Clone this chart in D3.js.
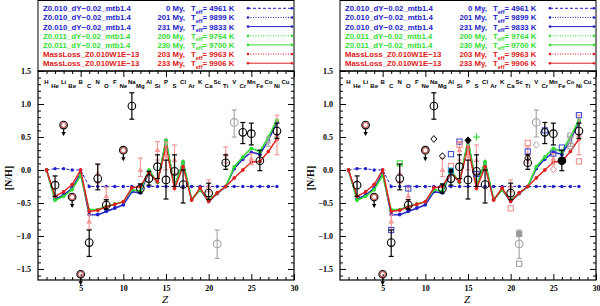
<!DOCTYPE html>
<html>
<head>
<meta charset="utf-8">
<title>[N/H] abundances</title>
<script src="https://cdn.jsdelivr.net/npm/d3@7"></script>
<style>
body{margin:0;background:#fff;}
svg{display:block;background:#fff;}
.tick text{font-family:"Liberation Serif",serif;font-weight:bold;font-size:8px;fill:#000;}
.leg{font-family:"Liberation Sans",Arial,sans-serif;font-weight:bold;font-size:7.8px;}
.el{font-family:"Liberation Sans",Arial,sans-serif;font-weight:bold;font-size:6px;}
</style>
</head>
<body>
<svg width="600" height="306"></svg>
<script>
// elements Z = 1..29
var elements = ["H","He","Li","Be","B","C","N","O","F","Ne","Na","Mg","Al","Si","P","S","Cl","Ar","K","Ca","Sc","Ti","V","Cr","Mn","Fe","Co","Ni","Cu"];
var modelZ = [1,2,3,4,5,6,7,8,9,10,11,12,13,14,15,16,17,18,19,20,21,22,23,24,25,26,27,28];

// model curves (Z = 1..28)
var blue0   = [0.00,0.02,0.02,0.00,0.00,-0.25,-0.25,-0.25,-0.25,-0.25,-0.25,-0.25,-0.25,-0.25,-0.25,-0.25,-0.25,-0.25,-0.25,-0.25,-0.25,-0.25,-0.25,-0.25,-0.25,-0.25,-0.25,-0.25];
var blue201 = [0.00,-0.44,-0.37,-0.27,-0.05,-0.67,-0.67,-0.62,-0.57,-0.52,-0.32,-0.34,-0.03,-0.19,0.44,-0.25,0.11,-0.44,-0.30,-0.46,-0.35,-0.25,0.02,0.16,0.26,0.23,0.44,0.72];
var blue231 = [0.00,-0.44,-0.38,-0.28,-0.05,-0.68,-0.68,-0.63,-0.58,-0.53,-0.33,-0.35,-0.03,-0.19,0.45,-0.25,0.12,-0.45,-0.30,-0.48,-0.36,-0.25,0.02,0.17,0.27,0.24,0.45,0.73];
var green200 = [0.00,-0.46,-0.40,-0.30,-0.08,-0.60,-0.60,-0.55,-0.51,-0.48,-0.30,-0.32,0.00,-0.19,0.44,-0.25,0.12,-0.44,-0.30,-0.45,-0.35,-0.25,0.05,0.19,0.32,0.27,0.49,0.75];
var green230 = [0.00,-0.46,-0.40,-0.30,-0.08,-0.60,-0.60,-0.55,-0.52,-0.48,-0.30,-0.32,0.00,-0.19,0.45,-0.25,0.13,-0.45,-0.30,-0.46,-0.35,-0.25,0.05,0.20,0.33,0.28,0.50,0.76];
var red203 = [0.00,-0.40,-0.33,-0.22,0.00,-0.63,-0.61,-0.56,-0.52,-0.48,-0.27,-0.25,-0.04,-0.18,0.34,-0.28,0.05,-0.45,-0.27,-0.47,-0.34,-0.25,-0.12,0.00,0.12,0.13,0.28,0.46];
var red233 = [0.00,-0.40,-0.33,-0.22,0.00,-0.63,-0.61,-0.56,-0.52,-0.48,-0.27,-0.25,-0.04,-0.18,0.35,-0.28,0.05,-0.46,-0.27,-0.48,-0.35,-0.25,-0.12,0.00,0.12,0.13,0.28,0.47];

// legend
var legName = ["Z0.010_dY\u22120.02_mtb1.4","Z0.010_dY\u22120.02_mtb1.4","Z0.010_dY\u22120.02_mtb1.4","Z0.011_dY\u22120.02_mtb1.4","Z0.011_dY\u22120.02_mtb1.4","MassLoss_Z0.010W1E\u221213","MassLoss_Z0.010W1E\u221213"];
var legAge = ["0 My,","201 My,","231 My,","200 My,","230 My,","203 My,","233 My,"];
var legTeff = [4961,9899,9833,9764,9700,9963,9906];

// observations, black circles with error bars
var obsZ   = [2,6,7,8,11,12,13,14,15,16,17,20,22,24,25,26,28];
var obsVal = [-0.23,-1.10,-0.13,-0.53,0.97,-0.28,-0.13,0.05,-0.15,-0.02,-0.22,-0.35,0.11,0.57,0.55,0.14,0.59];
var obsLo  = [-0.40,-1.31,-0.30,-0.60,0.77,-0.35,-0.23,-0.13,-0.44,-0.25,-0.50,-0.45,0.01,0.40,0.38,-0.01,0.48];
var obsHi  = [-0.09,-0.91,0.09,-0.45,1.17,-0.21,-0.02,0.23,0.15,0.23,0.00,-0.20,0.23,0.72,0.71,0.30,0.71];
// upper limits
var limZ   = [3,4,5,10];
var limVal = [0.68,-0.41,-1.58,0.30];
// second study (pink triangles)
var pinkZ   = [6,7,8,12,14,15,16,20,22,25,28];
var pinkVal = [-0.78,-0.05,-0.40,0.00,0.30,0.22,0.15,-0.25,0.23,0.17,0.53];
var pinkLo  = [-0.90,-0.20,-0.45,-0.10,0.15,0.00,-0.05,-0.33,0.11,0.08,0.23];
var pinkHi  = [-0.68,0.08,-0.26,0.18,0.43,0.42,0.38,-0.15,0.35,0.25,0.83];
// gray points
var grayZ   = [21,23,27];
var grayVal = [-1.12,0.72,0.43];
var grayLo  = [-1.34,0.50,0.36];
var grayHi  = [-0.91,0.91,0.50];

// extra points, right panel only
var bSqZ = [6,8,13,14,16,22,24,25,26,28];
var bSqV = [-0.91,-0.28,0.24,0.43,-0.06,0.28,0.60,0.25,0.34,0.83];
var pSqZ = [13,14,20,22,28];
var pSqV = [0.06,0.38,-0.58,0.41,0.13];
var cSqZ = [13];
var cSqV = [-0.01];
var gSqZ = [7];
var gSqV = [0.10];
var diaZ = [11,12,15,22,23,25];
var diaV = [0.47,0.21,0.45,0.18,0.38,0.01];
var diaC = ["#000","#000","#000","#000","#aaa","#e08080"];
var plusZ = [16];
var plusV = [0.50];
var grSqZ = [21,21,27,27];
var grSqV = [-0.97,-1.42,0.52,0.36];
var grSqFill = ["#999","none","none","none"];

var blue = "#2222c8", green = "#33dd33", red = "#e02020", pink = "#f49a9a", gray = "#aaaaaa";

var series = [
  {v: blue0, c: blue, dash: "3,2", w: 1},
  {v: blue201, c: blue, dash: "1,1.5", w: 1},
  {v: blue231, c: blue, dash: null, w: 1.4},
  {v: green200, c: green, dash: "1,1.5", w: 1},
  {v: green230, c: green, dash: null, w: 1.6},
  {v: red203, c: red, dash: "1,1.5", w: 1},
  {v: red233, c: red, dash: null, w: 1.4}
];

var svg = d3.select("svg");
var W = 256, top0 = 71, bot = 280;

function drawPanel(x0, right) {
  var g = svg.append("g");
  var x = d3.scaleLinear().domain([0,30]).range([x0, x0+W]);
  var y = d3.scaleLinear().domain([-1.667,1.5]).range([bot, top0]);

  // legend box
  g.append("rect").attr("x",x0).attr("y",0.5).attr("width",W).attr("height",top0-0.5)
    .attr("fill","none").attr("stroke","#000").attr("stroke-width",1);
  legName.forEach(function(n,i){
    var s = series[i], ly = 11.3 + i*9.15;
    g.append("text").attr("class","leg").attr("fill",s.c).attr("x",x0+5).attr("y",ly).text(n);
    g.append("text").attr("class","leg").attr("fill",s.c).attr("x",x0+147).attr("y",ly)
      .attr("text-anchor","end").text(legAge[i]);
    var tt = g.append("text").attr("class","leg").attr("fill",s.c).attr("x",x0+153).attr("y",ly);
    tt.append("tspan").text("T");
    tt.append("tspan").attr("font-size","5.5px").attr("dy",2.5).text("eff");
    tt.append("tspan").attr("dy",-2.5).text("= " + legTeff[i] + " K");
    g.append("line").attr("x1",x0+210).attr("x2",x0+254).attr("y1",ly-3).attr("y2",ly-3)
      .attr("stroke",s.c).attr("stroke-width",1).attr("stroke-dasharray",s.dash);
    [x0+210,x0+254].forEach(function(px){
      g.append("circle").attr("cx",px).attr("cy",ly-3).attr("r",1.3).attr("fill",s.c);
    });
  });

  // frame
  g.append("rect").attr("x",x0).attr("y",top0).attr("width",W).attr("height",bot-top0)
    .attr("fill","none").attr("stroke","#000").attr("stroke-width",1.2);

  var xMajor = [5,10,15,20,25,30];
  var xMinor = modelZ.concat([29]).filter(function(d){return d%5;});
  var yMajor = [-1.5,-1,-0.5,0,0.5,1,1.5];
  var yMinor = d3.range(-16,15).map(function(d){return d/10;}).filter(function(d){return Math.abs(d*2-Math.round(d*2))>0.01;});

  function ax(a, tr){ var s = g.append("g").attr("transform",tr).call(a); s.select(".domain").remove(); s.selectAll("line").attr("stroke","#000"); return s; }
  ax(d3.axisBottom(x).tickValues(xMajor).tickSize(-6).tickPadding(5).tickFormat(d3.format("d")), "translate(0,"+bot+")");
  ax(d3.axisBottom(x).tickValues(xMinor).tickSize(-3).tickFormat(""), "translate(0,"+bot+")");
  ax(d3.axisTop(x).tickValues(xMajor).tickSize(-6).tickFormat(""), "translate(0,"+top0+")");
  ax(d3.axisTop(x).tickValues(xMinor).tickSize(-3).tickFormat(""), "translate(0,"+top0+")");
  ax(d3.axisLeft(y).tickValues(yMajor).tickSize(-6).tickPadding(7).tickFormat(d3.format(".1f")), "translate("+x0+",0)");
  ax(d3.axisLeft(y).tickValues(yMinor).tickSize(-3).tickFormat(""), "translate("+x0+",0)");
  ax(d3.axisRight(y).tickValues(yMajor).tickSize(-6).tickFormat(""), "translate("+(x0+W)+",0)");
  ax(d3.axisRight(y).tickValues(yMinor).tickSize(-3).tickFormat(""), "translate("+(x0+W)+",0)");

  // axis titles
  g.append("text").attr("x",x0+127).attr("y",303).attr("text-anchor","middle")
    .attr("font-family","Liberation Serif,serif").attr("font-style","italic").attr("font-size","11px").text("Z");
  g.append("text").attr("transform","translate("+(x0-26)+",178) rotate(-90)").attr("text-anchor","middle")
    .attr("font-family","Liberation Serif,serif").attr("font-weight","bold").attr("font-size","10px").text("[N/H]");

  // element labels
  g.selectAll(".el").data(elements).enter().append("text").attr("class","el")
    .attr("x",function(d,i){return x(i+1);})
    .attr("y",function(d,i){return i%2 ? 87.5 : 83.5;})
    .attr("text-anchor","middle").text(function(d){return d;});

  // models
  var line = d3.line().x(function(d,i){return x(modelZ[i]);}).y(function(d){return y(d);});
  series.forEach(function(s){
    g.append("path").datum(s.v).attr("d",line).attr("fill","none").attr("stroke",s.c)
      .attr("stroke-width",s.w).attr("stroke-dasharray",s.dash);
    g.selectAll(null).data(s.v).enter().append("circle")
      .attr("cx",function(d,i){return x(modelZ[i]);}).attr("cy",function(d){return y(d);})
      .attr("r",1.7).attr("fill",s.c);
  });

  function errbars(zs, lo, hi, col, w) {
    zs.forEach(function(z,i){
      var px = x(z);
      g.append("line").attr("x1",px).attr("x2",px).attr("y1",y(lo[i])).attr("y2",y(hi[i])).attr("stroke",col).attr("stroke-width",w);
      [lo[i],hi[i]].forEach(function(v){
        g.append("line").attr("x1",px-2.5).attr("x2",px+2.5).attr("y1",y(v)).attr("y2",y(v)).attr("stroke",col).attr("stroke-width",w);
      });
    });
  }
  function tri(px, py, r) { return "M"+px+","+(py-r)+"L"+(px+r*0.9)+","+(py+r*0.6)+"L"+(px-r*0.9)+","+(py+r*0.6)+"Z"; }

  // pink study
  errbars(pinkZ, pinkLo, pinkHi, pink, 1.2);
  pinkZ.forEach(function(z,i){
    g.append("path").attr("d",tri(x(z),y(pinkVal[i]),3.2)).attr("fill",pink);
  });
  // gray
  errbars(grayZ, grayLo, grayHi, gray, 1.2);
  grayZ.forEach(function(z,i){
    if (z === 27) g.append("path").attr("d",tri(x(z),y(grayVal[i]),3.2)).attr("fill",gray);
    else g.append("circle").attr("cx",x(z)).attr("cy",y(grayVal[i])).attr("r",3.8)
      .attr("fill","none").attr("stroke",gray).attr("stroke-width",1.2);
  });

  if (right) {
    function sq(zs, vs, col, fill) {
      zs.forEach(function(z,i){
        g.append("rect").attr("x",x(z)-2.6).attr("y",y(vs[i])-2.6).attr("width",5.2).attr("height",5.2)
          .attr("fill",fill ? fill[i] || fill : "none").attr("stroke",col).attr("stroke-width",1);
      });
    }
    sq(bSqZ, bSqV, "#3344cc");
    sq(pSqZ, pSqV, "#ee8888");
    sq(cSqZ, cSqV, "#22aadd", "#55ccee");
    sq(gSqZ, gSqV, green);
    sq(grSqZ, grSqV, "#999", grSqFill);
    diaZ.forEach(function(z,i){
      var px = x(z), py = y(diaV[i]);
      g.append("path").attr("d","M"+px+","+(py-3.4)+"L"+(px+3)+","+py+"L"+px+","+(py+3.4)+"L"+(px-3)+","+py+"Z")
        .attr("fill", z === 15 ? "#000" : "none").attr("stroke",diaC[i]).attr("stroke-width",1);
    });
    plusZ.forEach(function(z,i){
      var px = x(z), py = y(plusV[i]);
      g.append("path").attr("d","M"+(px-3.5)+","+py+"H"+(px+3.5)+"M"+px+","+(py-3.5)+"V"+(py+3.5))
        .attr("stroke",green).attr("stroke-width",1.2);
    });
  }

  // black circles
  errbars(obsZ, obsLo, obsHi, "#000", 1.2);
  obsZ.forEach(function(z,i){
    g.append("circle").attr("cx",x(z)).attr("cy",y(obsVal[i])).attr("r",3.8)
      .attr("fill", right && z === 26 ? "#000" : "none").attr("stroke","#000").attr("stroke-width",1.1);
  });
  // upper limits
  limZ.forEach(function(z,i){
    var px = x(z), py = y(limVal[i]);
    g.append("circle").attr("cx",px).attr("cy",py).attr("r",2.6).attr("fill","none").attr("stroke","#d06060").attr("stroke-width",1.2);
    g.append("circle").attr("cx",px).attr("cy",py).attr("r",3.8).attr("fill","none").attr("stroke","#000").attr("stroke-width",1.1);
    g.append("line").attr("x1",px).attr("x2",px).attr("y1",py+3.8).attr("y2",py+8).attr("stroke","#000").attr("stroke-width",1.2);
    g.append("path").attr("d","M"+(px-2.2)+","+(py+7)+"L"+(px+2.2)+","+(py+7)+"L"+px+","+(py+11)+"Z").attr("fill","#000");
  });
}

drawPanel(38, false);
drawPanel(340, true);
</script>
</body>
</html>
